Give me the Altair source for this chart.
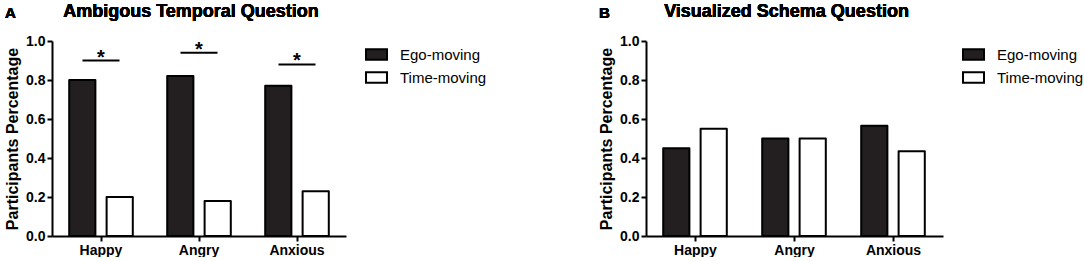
import altair as alt
import pandas as pd

emotions = ["Happy", "Angry", "Anxious"]
conditions = ["Ego-moving", "Time-moving"]

a_ego = [0.80, 0.82, 0.77]
a_time = [0.20, 0.18, 0.23]
a_sig_height = [0.90, 0.94, 0.88]

b_ego = [0.45, 0.50, 0.565]
b_time = [0.55, 0.50, 0.435]

FONT = "Liberation Sans"


def make_df(ego, time):
    return pd.DataFrame({
        "emotion": emotions * 2,
        "condition": [conditions[0]] * 3 + [conditions[1]] * 3,
        "value": ego + time,
    })


def panel(ego, time, letter, title, width, sig=None):
    df = make_df(ego, time)

    def x_enc():
        return alt.X(
            "emotion:N", sort=emotions,
            scale=alt.Scale(paddingInner=0, paddingOuter=0),
            axis=alt.Axis(title=None, labelAngle=0, labelPadding=2),
        )

    def y_enc(field="value:Q"):
        return alt.Y(
            field,
            scale=alt.Scale(domain=[0, 1], nice=False, zero=True),
            axis=alt.Axis(values=[0, 0.2, 0.4, 0.6, 0.8, 1.0], format=".1f",
                          title="Participants Percentage", grid=False,
                          titlePadding=5, labelPadding=2, labelOverlap=False),
        )

    bars = alt.Chart(df).mark_bar(stroke="black", strokeWidth=2, strokeJoin="round").encode(
        x=x_enc(),
        xOffset=alt.XOffset("condition:N", sort=conditions,
                            scale=alt.Scale(paddingInner=0.3, paddingOuter=0.46)),
        y=y_enc(),
        color=alt.Color(
            "condition:N",
            scale=alt.Scale(domain=conditions, range=["#231f20", "#ffffff"]),
            legend=alt.Legend(
                title=None, orient="none", legendX=width + 19, legendY=2,
                symbolType="M-1,-0.5H1V0.5H-1Z", symbolSize=441,
                symbolStrokeColor="black", symbolStrokeWidth=2,
                labelFont=FONT, labelFontSize=15, labelColor="black",
                labelOffset=12, rowPadding=2, padding=0,
            ),
        ),
    )
    layers = [bars]
    if sig is not None:
        sdf = pd.DataFrame({"emotion": emotions, "value": sig})
        ticks = alt.Chart(sdf).mark_tick(color="black", thickness=2, size=37, opacity=1).encode(
            x=x_enc(), y=y_enc())
        stars = alt.Chart(sdf).mark_text(
            text="*", font=FONT, fontSize=20, fontWeight="bold",
            baseline="alphabetic", dy=3, color="black").encode(
            x=x_enc(), y=y_enc())
        layers += [ticks, stars]
    lab = alt.Chart(df).mark_text(
        text=letter, font=FONT, fontSize=15, fontWeight="bold",
        align="left", baseline="alphabetic", color="black").encode(
        x=alt.value(-47), y=alt.value(-23.5))
    ttl = alt.Chart(df).mark_text(
        text=title, font=FONT, fontSize=18, fontWeight="bold",
        align="center", baseline="alphabetic", color="black").encode(
        x=alt.value(width / 2 - 8), y=alt.value(-24))
    layers += [lab, ttl]
    return alt.layer(*layers).properties(width=width, height=195)


pa = panel(a_ego, a_time, "A", "Ambigous Temporal Question", 294, a_sig_height)
pb = panel(b_ego, b_time, "B", "Visualized Schema Question", 297)

chart = alt.hconcat(pa, pb, spacing=111).resolve_legend(color="independent").resolve_scale(
    color="independent").properties(
    padding={"left": 4, "top": 3, "right": 0, "bottom": 0}
).configure_view(stroke=None).configure_axis(
    domainColor="black", domainWidth=2, tickColor="black", tickWidth=2, tickSize=5,
    labelFont=FONT, labelFontSize=14, labelFontWeight="bold", labelColor="black",
    titleFont=FONT, titleFontSize=16, titleFontWeight="bold", titleColor="black",
)

chart.save("out.html", embed_options={"renderer": "svg", "actions": False})
